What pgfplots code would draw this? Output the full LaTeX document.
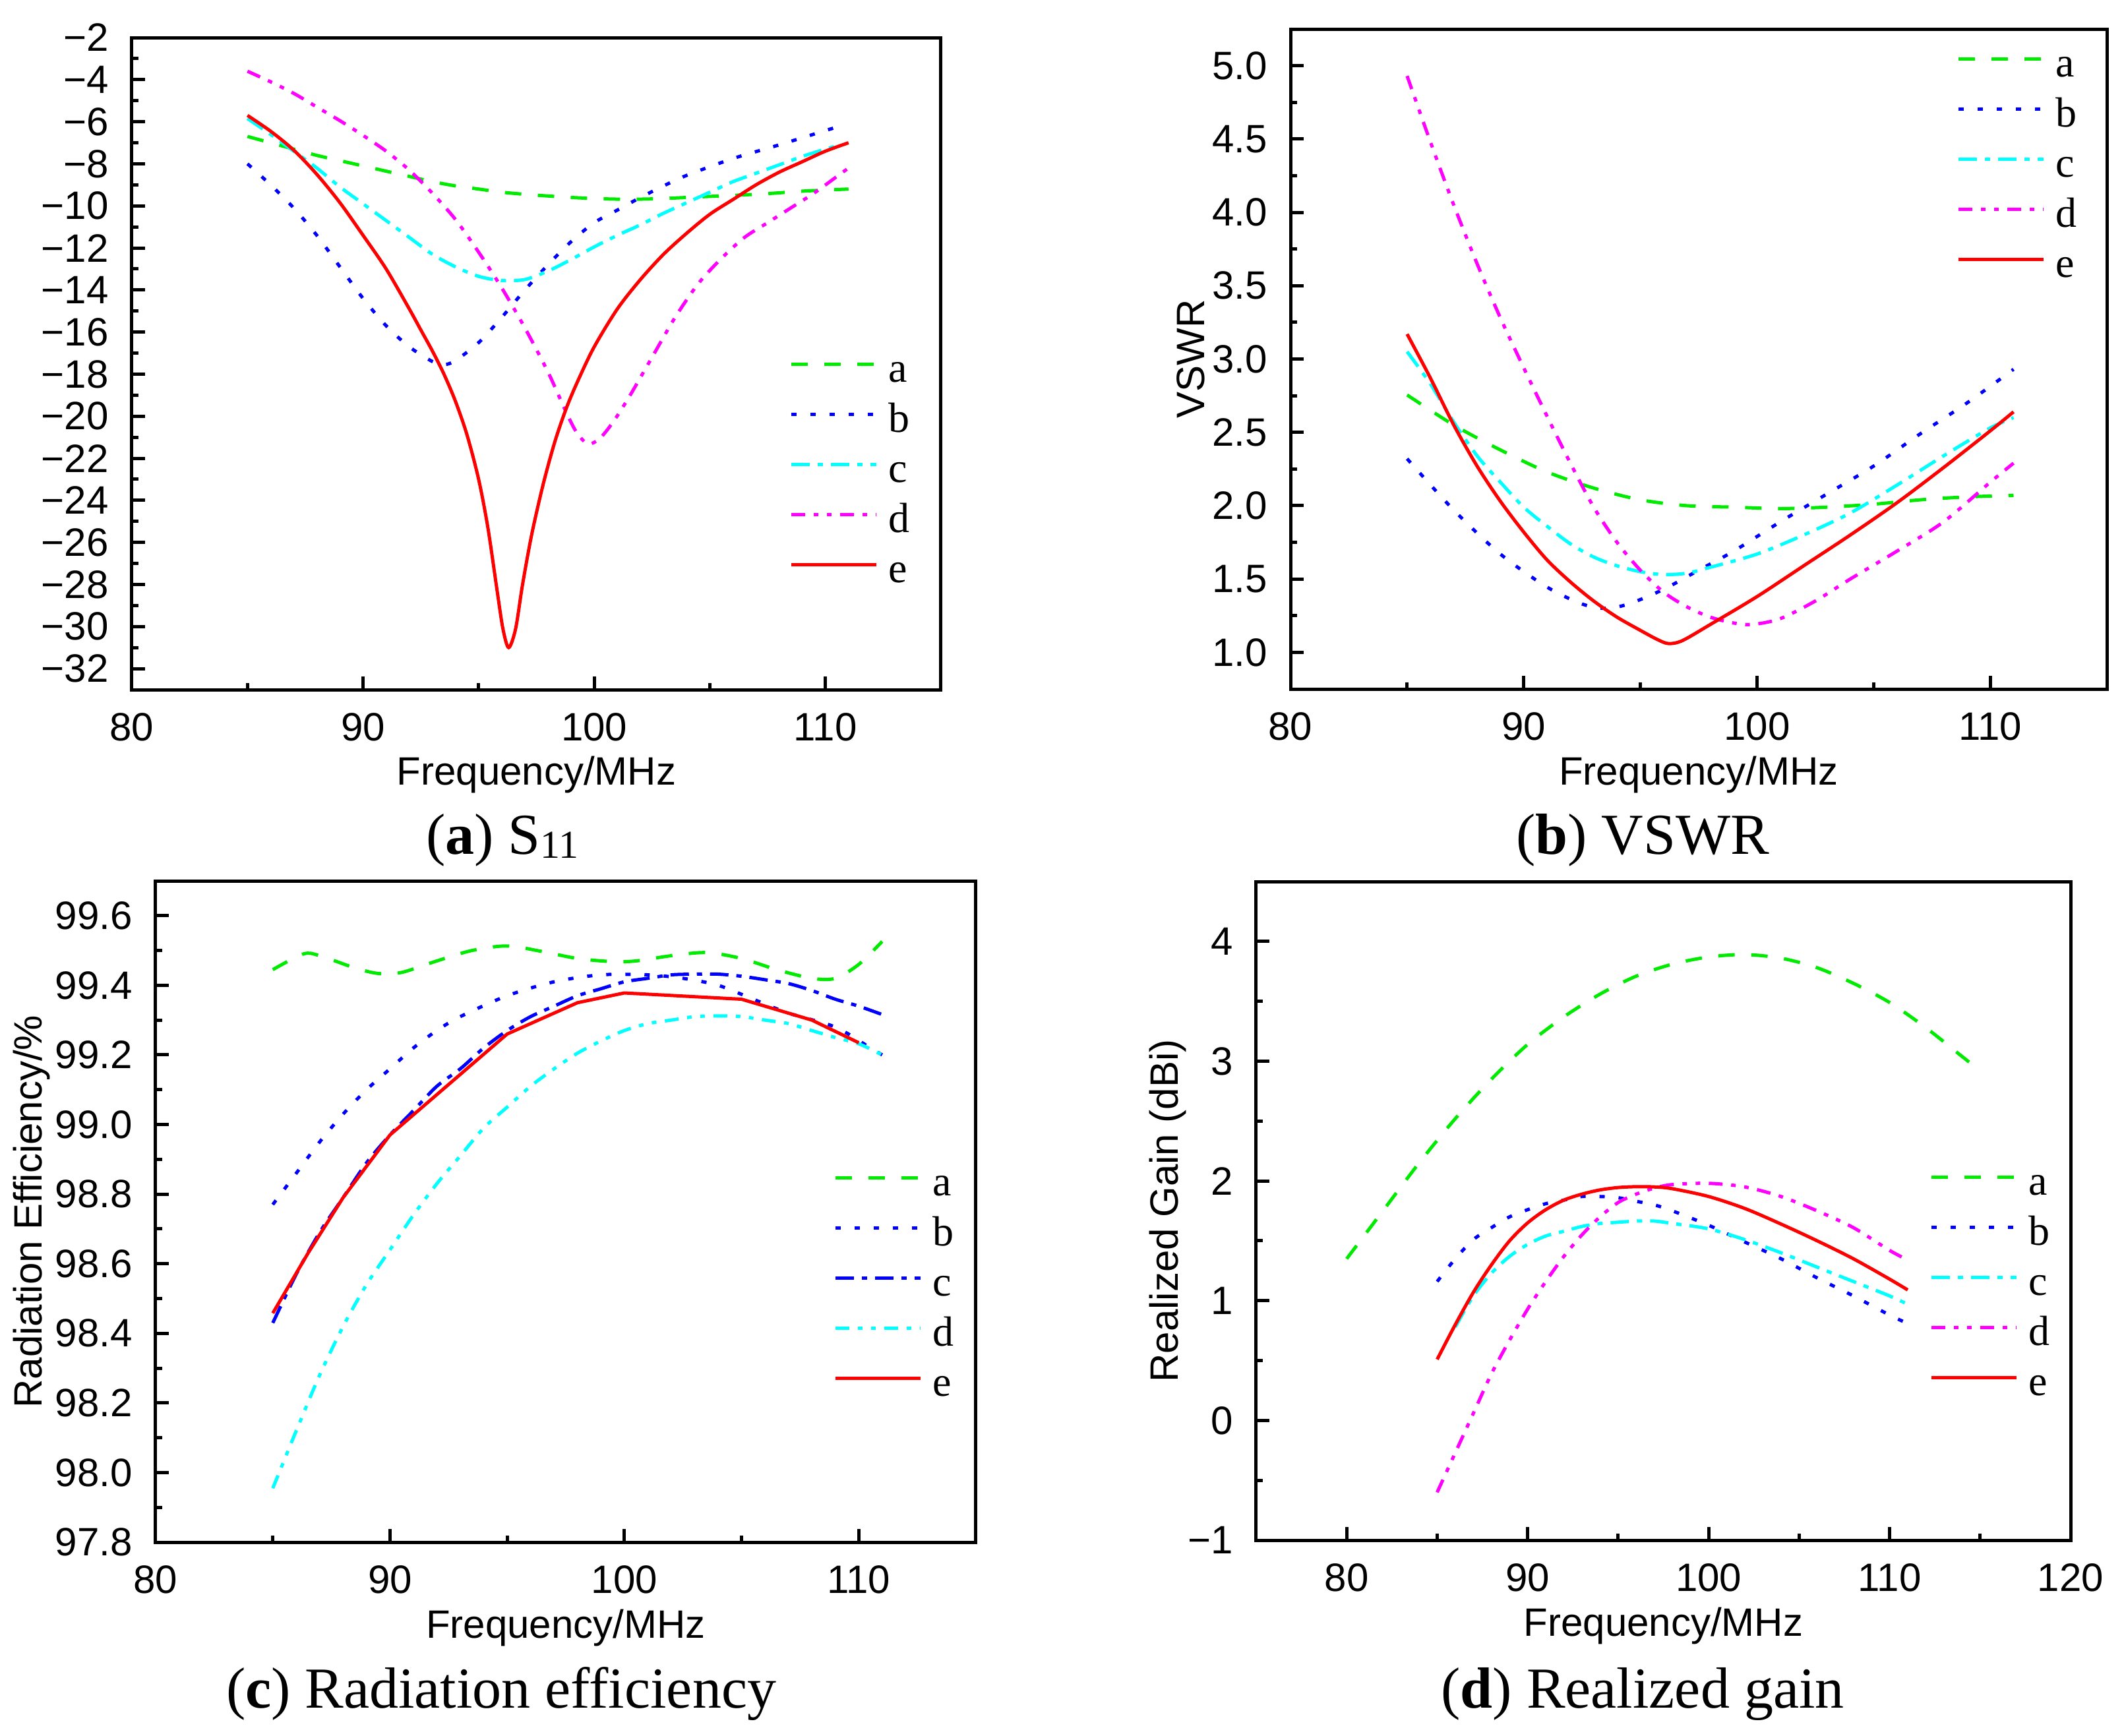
\documentclass[border=0pt]{standalone}
\usepackage{fontspec}
\setmainfont{Liberation Sans}
\newfontfamily\seriffont{Liberation Serif}
\usepackage{pgfplots}
\pgfplotsset{compat=1.18}
\definecolor{cG}{RGB}{0,235,0}
\definecolor{cB}{RGB}{0,0,255}
\definecolor{cC}{RGB}{0,255,255}
\definecolor{cM}{RGB}{255,0,255}
\definecolor{cR}{RGB}{255,0,0}
\pgfplotsset{
  myaxis/.style={
    scale only axis,
    axis line style={line width=0.5pt, black},
    tick align=inside, tick pos=left,
    major tick length=2pt, minor tick length=1pt,
    every tick/.style={black, line width=0.5pt},
    minor x tick num=1, minor y tick num=1,
    tick label style={font=\fontsize{6}{7}\selectfont},
    label style={font=\fontsize{6}{7}\selectfont},
    /pgf/number format/assume math mode=true,
    xlabel={Frequency/MHz},
    xlabel style={at={(axis description cs:0.5,-0.13)}, anchor=center},
    legend cell align=left,
    legend style={draw=none, fill=none, inner sep=0pt, outer sep=0pt, anchor=north west,
      font=\fontsize{6.4}{7}\selectfont\seriffont, row sep=0pt, column sep=1.6pt,
      nodes={inner sep=0pt, text height=4.6pt, text depth=3.0pt}},
    legend image code/.code={\draw[##1] (0pt,1.9pt) -- (12.9pt,1.9pt);},
    every axis plot/.append style={line width=0.5pt},
  },
  sA/.style={cG, dash pattern=on 2.5pt off 2.5pt},
  sB/.style={cB, dash pattern=on 0.8pt off 2.1pt},
  sC/.style={cC, dash pattern=on 2.8pt off 1.2pt on 0.8pt off 1.2pt},
  sCb/.style={cB, dash pattern=on 2.8pt off 1.2pt on 0.8pt off 1.2pt},
  sD/.style={cM, dash pattern=on 2.1pt off 1.3pt on 0.7pt off 1.3pt on 0.7pt off 1.3pt},
  sDc/.style={cC, dash pattern=on 2.1pt off 1.3pt on 0.7pt off 1.3pt on 0.7pt off 1.3pt},
  sE/.style={cR, solid},
}
\begin{document}
\begin{tikzpicture}
\path[use as bounding box] (0,0) rectangle (322.1pt,-263.2pt);

% ---------------- (a) S11
\begin{axis}[myaxis, at={(20.0pt,-5.7pt)}, anchor=north west,
  width=122.7pt, height=98.9pt,
  xmin=80, xmax=115, ymin=-33, ymax=-2,
  xtick={80,90,100,110},
  ytick={-32,-30,-28,-26,-24,-22,-20,-18,-16,-14,-12,-10,-8,-6,-4,-2},
  yticklabels={−32,−30,−28,−26,−24,−22,−20,−18,−16,−14,−12,−10,−8,−6,−4,−2},
  legend style={at={(0.8126,0.5187)}}]
\addplot[sA, smooth] coordinates {(85,-6.7)(86,-7.0)(87,-7.3)(88,-7.6)(89,-7.85)(90,-8.1)(91,-8.35)(92,-8.6)(93,-8.85)(94,-9.05)(95,-9.2)(96,-9.35)(97,-9.45)(98,-9.53)(99,-9.6)(100,-9.65)(101,-9.68)(102,-9.68)(103,-9.65)(104,-9.6)(105,-9.55)(106,-9.5)(107,-9.45)(108,-9.38)(109,-9.3)(110,-9.25)(111,-9.2)};
\addlegendentry{a}
\addplot[sB, smooth] coordinates {(85,-8.0)(86,-9.0)(87,-10.1)(88,-11.4)(89,-12.9)(90,-14.4)(91,-15.7)(92,-16.7)(93,-17.4)(93.5,-17.55)(94,-17.35)(95,-16.5)(96,-15.3)(97,-14.0)(98,-12.8)(99,-11.7)(100,-10.8)(101,-10.2)(102,-9.6)(103,-9.05)(104,-8.55)(106,-7.75)(108,-7.1)(110.5,-6.25)};
\addlegendentry{b}
\addplot[sC, smooth] coordinates {(85,-5.85)(86,-6.6)(87,-7.4)(88,-8.2)(89,-9.1)(90,-9.9)(91,-10.7)(92,-11.5)(93,-12.3)(94,-12.9)(95,-13.35)(96,-13.55)(97,-13.5)(98,-13.1)(99,-12.55)(100,-11.95)(101,-11.4)(102,-10.9)(103,-10.35)(104,-9.85)(105,-9.35)(106,-8.85)(107,-8.45)(108,-8.05)(109,-7.65)(110,-7.3)(110.5,-7.15)};
\addlegendentry{c}
\addplot[sD, smooth] coordinates {(85,-3.6)(86,-4.1)(87,-4.65)(88,-5.3)(89,-5.95)(90,-6.65)(91,-7.4)(92,-8.3)(93,-9.4)(94,-10.65)(95,-12.2)(96,-13.9)(97,-15.8)(98,-17.9)(98.7,-19.6)(99.2,-20.7)(99.7,-21.3)(100.2,-21.1)(100.8,-20.3)(101.5,-19.1)(102.5,-17.2)(103.5,-15.3)(104.5,-13.7)(105.5,-12.5)(106.5,-11.5)(107.5,-10.8)(108.5,-10.1)(109.5,-9.4)(110.5,-8.6)(111,-8.2)};
\addlegendentry{d}
\addplot[sE, smooth] coordinates {(85,-5.7)(86,-6.45)(87,-7.35)(88,-8.5)(89,-9.85)(90,-11.4)(91,-13.0)(92,-14.9)(92.5,-15.9)(93,-16.9)(93.5,-18.0)(94,-19.3)(94.5,-20.9)(95,-23.0)(95.4,-25.3)(95.8,-28.3)(96.05,-30.1)(96.3,-31.0)(96.6,-30.1)(96.9,-28.0)(97.3,-25.6)(97.8,-23.2)(98.3,-21.2)(98.8,-19.6)(99.3,-18.3)(100,-16.7)(101,-14.9)(102,-13.5)(103,-12.3)(104,-11.3)(105,-10.4)(106,-9.7)(107,-9.0)(108,-8.4)(109,-7.9)(110,-7.4)(111,-7.0)};
\addlegendentry{e}
\end{axis}

% ---------------- (b) VSWR
\begin{axis}[myaxis, at={(195.7pt,-4.4pt)}, anchor=north west,
  width=123.8pt, height=100.1pt,
  xmin=80, xmax=115, ymin=0.75, ymax=5.25,
  xtick={80,90,100,110},
  ytick={1,1.5,2,2.5,3,3.5,4,4.5,5},
  yticklabel style={/pgf/number format/fixed, /pgf/number format/fixed zerofill, /pgf/number format/precision=1},
  ylabel={VSWR},
  ylabel style={at={(axis description cs:-0.122,0.5)}, anchor=center},
  legend style={at={(0.8166,0.974)}}]
\addplot[sA, smooth] coordinates {(85,2.755)(87,2.55)(89,2.38)(91,2.23)(93,2.12)(95,2.04)(97,2.0)(99,1.99)(101,1.98)(103,1.99)(105,2.01)(107,2.04)(109,2.06)(111,2.07)};
\addlegendentry{a}
\addplot[sB, smooth] coordinates {(85,2.32)(87,1.97)(89,1.67)(91,1.445)(92.5,1.33)(93.5,1.30)(94.5,1.33)(96,1.43)(97.5,1.56)(99,1.69)(101,1.89)(103,2.08)(105,2.27)(107,2.49)(109,2.70)(111,2.93)};
\addlegendentry{b}
\addplot[sC, smooth] coordinates {(85,3.05)(86,2.83)(87,2.57)(88,2.34)(89,2.16)(90,1.99)(91,1.86)(92,1.74)(93,1.65)(94,1.59)(95,1.55)(96,1.53)(97,1.54)(98,1.58)(100,1.67)(102,1.80)(104,1.95)(106,2.14)(108,2.34)(110,2.53)(111,2.60)};
\addlegendentry{c}
\addplot[sD, smooth] coordinates {(85,4.93)(86,4.48)(87,4.05)(88,3.65)(89,3.28)(90,2.94)(91,2.61)(92,2.29)(93,1.99)(94,1.75)(95,1.56)(96,1.41)(97,1.31)(98,1.24)(99,1.20)(99.8,1.19)(101,1.23)(102.5,1.35)(104,1.50)(106,1.69)(108,1.89)(110,2.16)(111,2.29)};
\addlegendentry{d}
\addplot[sE, smooth] coordinates {(85,3.17)(86,2.87)(87,2.55)(88,2.27)(89,2.03)(90,1.82)(91,1.63)(92,1.48)(93,1.35)(94,1.24)(95,1.15)(95.7,1.09)(96.2,1.06)(96.8,1.08)(98,1.19)(100,1.38)(102,1.59)(104,1.80)(106,2.02)(108,2.26)(110,2.51)(111,2.64)};
\addlegendentry{e}
\end{axis}

% ---------------- (c) Radiation efficiency
\begin{axis}[myaxis, at={(23.6pt,-133.6pt)}, anchor=north west,
  width=124.4pt, height=100.3pt,
  xmin=80, xmax=115, ymin=97.8, ymax=99.7,
  xtick={80,90,100,110},
  ytick={97.8,98.0,98.2,98.4,98.6,98.8,99.0,99.2,99.4,99.6},
  yticklabel style={/pgf/number format/fixed, /pgf/number format/fixed zerofill, /pgf/number format/precision=1},
  ylabel={Radiation Efficiency/\%},
  ylabel style={at={(axis description cs:-0.151,0.5)}, anchor=center},
  legend style={at={(0.8264,0.5703)}}]
\addplot[sA, smooth] coordinates {(85,99.445)(86.3,99.49)(87,99.485)(88.5,99.45)(89.5,99.434)(90.5,99.437)(92,99.47)(93.5,99.50)(95,99.513)(96.5,99.497)(98,99.477)(99.5,99.468)(100.5,99.47)(102,99.485)(103.5,99.494)(105,99.477)(106.5,99.445)(108,99.42)(109,99.42)(110,99.46)(111,99.526)};
\addlegendentry{a}
\addplot[sB, smooth] coordinates {(85,98.77)(86,98.86)(87,98.95)(88,99.03)(89,99.10)(90,99.16)(91,99.22)(92,99.27)(93,99.31)(95,99.37)(97,99.41)(99,99.43)(101,99.43)(102.5,99.42)(104,99.40)(105.5,99.36)(107,99.32)(109,99.28)(110.5,99.22)(111,99.20)};
\addlegendentry{b}
\addplot[sCb, smooth] coordinates {(85,98.43)(86,98.57)(87,98.69)(88,98.79)(89,98.89)(90,98.97)(91,99.04)(92,99.11)(93,99.16)(94,99.22)(95,99.27)(96,99.31)(97,99.34)(98,99.37)(99,99.39)(100,99.41)(101,99.42)(102,99.43)(103,99.432)(104,99.432)(105,99.426)(106,99.416)(107,99.405)(108,99.385)(109,99.36)(110,99.34)(111,99.316)};
\addlegendentry{c}
\addplot[sDc, smooth] coordinates {(85,97.955)(86,98.12)(87,98.28)(88,98.42)(89,98.54)(90,98.64)(91,98.74)(92,98.83)(93,98.91)(94,98.99)(95,99.05)(96,99.11)(97,99.16)(98,99.205)(99,99.24)(100,99.27)(101,99.29)(102,99.30)(103,99.31)(104,99.312)(105,99.31)(106,99.30)(107,99.29)(108,99.27)(109,99.25)(110,99.232)(111,99.20)};
\addlegendentry{d}
\addplot[sE] coordinates {(85,98.458)(86.5,98.63)(88,98.79)(90,98.97)(95,99.26)(98,99.35)(100,99.378)(105,99.36)(108,99.30)(110,99.235)};
\addlegendentry{e}
\end{axis}

% ---------------- (d) Realized gain
\begin{axis}[myaxis, at={(190.5pt,-133.7pt)}, anchor=north west,
  width=123.5pt, height=99.9pt,
  xmin=75, xmax=120, ymin=-1, ymax=4.5,
  xtick={80,90,100,110,120},
  ytick={-1,0,1,2,3,4},
  yticklabels={−1,0,1,2,3,4},
  ylabel={Realized Gain (dBi)},
  ylabel style={at={(axis description cs:-0.1085,0.5)}, anchor=center},
  legend style={at={(0.8275,0.5706)}}]
\addplot[sA, smooth] coordinates {(80,1.35)(82,1.75)(84,2.15)(86,2.52)(88,2.85)(90,3.14)(92,3.37)(94,3.56)(96,3.71)(98,3.81)(100,3.87)(102,3.89)(104,3.86)(106,3.78)(108,3.65)(110,3.49)(112,3.28)(114,3.04)(115,2.92)};
\addlegendentry{a}
\addplot[sB, smooth] coordinates {(85,1.16)(86,1.35)(87,1.51)(88,1.61)(89,1.70)(90,1.76)(91,1.81)(92,1.84)(93,1.87)(94,1.87)(95,1.86)(96,1.83)(97,1.80)(98,1.75)(100,1.63)(102,1.49)(104,1.35)(106,1.19)(108,1.04)(110,0.88)(111,0.81)};
\addlegendentry{b}
\addplot[sC, smooth] coordinates {(86,0.78)(87,1.04)(88,1.23)(89,1.37)(90,1.47)(91,1.54)(92,1.58)(93,1.62)(94,1.645)(95,1.655)(96,1.665)(97,1.665)(98,1.645)(100,1.60)(102,1.51)(104,1.40)(106,1.28)(108,1.16)(110,1.04)(111,0.97)};
\addlegendentry{c}
\addplot[sD, smooth] coordinates {(85,-0.60)(86,-0.27)(87,0.06)(88,0.39)(89,0.67)(90,0.93)(91,1.16)(92,1.37)(93,1.55)(94,1.70)(95,1.82)(96,1.89)(97,1.94)(98,1.97)(100,1.98)(102,1.95)(104,1.87)(106,1.75)(108,1.61)(110,1.42)(111,1.34)};
\addlegendentry{d}
\addplot[sE, smooth] coordinates {(85,0.51)(86,0.80)(87,1.07)(88,1.30)(89,1.50)(90,1.65)(91,1.76)(92,1.84)(93,1.89)(94,1.925)(95,1.945)(96,1.952)(97,1.95)(98,1.935)(100,1.87)(102,1.77)(104,1.64)(106,1.50)(108,1.35)(110,1.18)(111,1.09)};
\addlegendentry{e}
\end{axis}

% captions
\node[font=\fontsize{8.8}{10}\selectfont\seriffont, anchor=base] at (76.2pt,-129.5pt) {(\textbf{a}) S{\fontsize{6}{6}\selectfont\raisebox{-0.25ex}{11}}};
\node[font=\fontsize{8.8}{10}\selectfont\seriffont, anchor=base] at (249.1pt,-129.5pt) {(\textbf{b}) VSWR};
\node[font=\fontsize{8.8}{10}\selectfont\seriffont, anchor=base] at (76.0pt,-259.0pt) {(\textbf{c}) Radiation efficiency};
\node[font=\fontsize{8.8}{10}\selectfont\seriffont, anchor=base] at (249.1pt,-259.0pt) {(\textbf{d}) Realized gain};
\end{tikzpicture}
\end{document}
